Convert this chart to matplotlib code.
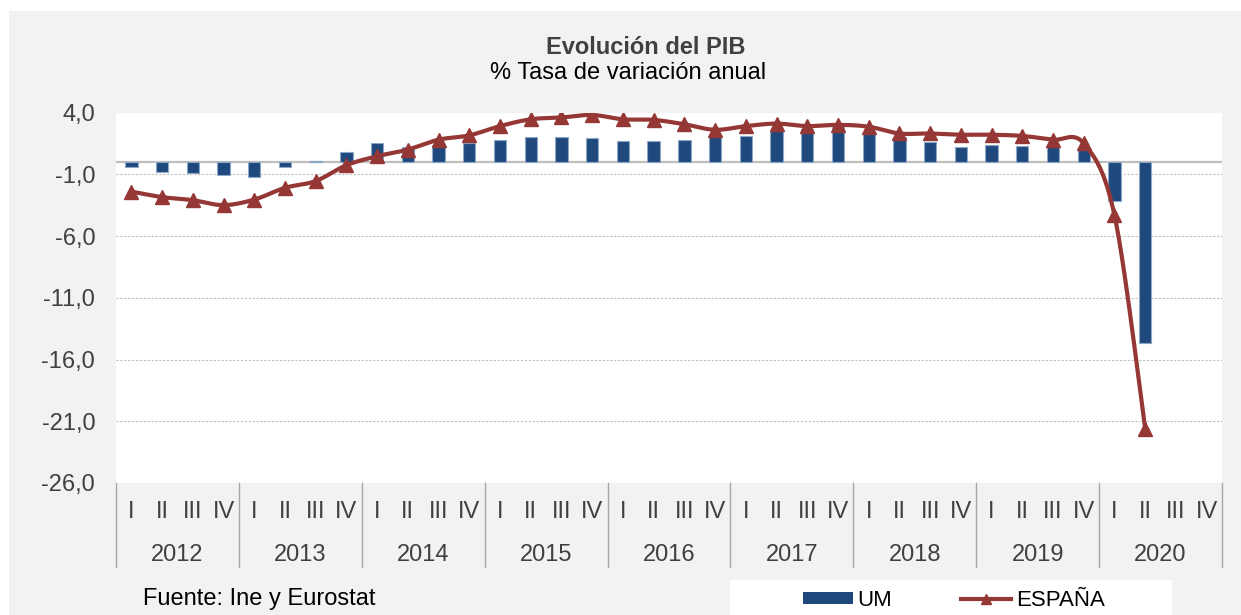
import numpy as np
import matplotlib.pyplot as plt
from matplotlib.patches import Rectangle, Patch
from matplotlib.lines import Line2D
from matplotlib.ticker import FuncFormatter

plt.rcParams['font.family'] = ['Liberation Sans', 'DejaVu Sans']

years = ['2012', '2013', '2014', '2015', '2016', '2017', '2018', '2019', '2020']
quarters = ['I', 'II', 'III', 'IV']

# UM (zona euro), tasa de variacion anual
um = [-0.4, -0.8, -0.9, -1.1, -1.2, -0.4, 0.1, 0.8,
      1.5, 1.2, 1.4, 1.5, 1.8, 2.0, 2.0, 1.9,
      1.7, 1.7, 1.8, 2.1, 2.1, 2.5, 2.7, 2.8,
      2.4, 2.0, 1.6, 1.2, 1.4, 1.25, 1.3, 1.0,
      -3.2, -14.7]

# ESPANA
esp = [-2.4, -2.85, -3.1, -3.5, -3.05, -2.1, -1.55, -0.27,
       0.46, 1.0, 1.8, 2.15, 2.9, 3.45, 3.6, 3.8,
       3.45, 3.4, 3.05, 2.6, 2.9, 3.1, 2.9, 3.0,
       2.85, 2.3, 2.3, 2.2, 2.2, 2.1, 1.8, 1.5,
       -4.3, -21.6]

yticks = [4, -1, -6, -11, -16, -21, -26]

blue = '#1f497d'
red = '#953735'
grey_txt = '#404040'
fs = 17

ncat = len(years) * 4
x_um = np.arange(len(um))
x_esp = np.arange(len(esp))


def smooth(xs, ys, n=24):
    # curva suavizada tipo Excel (Bezier / Catmull-Rom)
    px = np.concatenate([[xs[0]], xs, [xs[-1]]]).astype(float)
    py = np.concatenate([[ys[0]], ys, [ys[-1]]]).astype(float)
    ox, oy = [], []
    t = np.linspace(0, 1, n)
    for i in range(1, len(px) - 2):
        p0 = np.array([px[i - 1], py[i - 1]])
        p1 = np.array([px[i], py[i]])
        p2 = np.array([px[i + 1], py[i + 1]])
        p3 = np.array([px[i + 2], py[i + 2]])
        c1 = p1 + (p2 - p0) / 6.0
        c2 = p2 - (p3 - p1) / 6.0
        for tt in t:
            b = ((1 - tt) ** 3) * p1 + 3 * ((1 - tt) ** 2) * tt * c1 + 3 * (1 - tt) * tt ** 2 * c2 + tt ** 3 * p2
            ox.append(b[0])
            oy.append(b[1])
    return np.array(ox), np.array(oy)


fig = plt.figure(figsize=(12.41, 6.15), dpi=100)
fig.patch.set_facecolor('white')
fig.patches.append(Rectangle((9 / 1241, 0), 1 - 9 / 1241, 1 - 11 / 615, transform=fig.transFigure,
                             facecolor='#f2f2f2', edgecolor='none', zorder=-10))
fig.patches.append(Rectangle((730 / 1241, 0), (1172 - 730) / 1241, 35 / 615, transform=fig.transFigure,
                             facecolor='white', edgecolor='none', zorder=-5))

ax = fig.add_axes([116 / 1241, 1 - 483 / 615, (1222 - 116) / 1241, (483 - 112.5) / 615])
ax.set_facecolor('white')
ax.set_xlim(-0.5, ncat - 0.5)
ax.set_ylim(-26, 4)

for v in yticks:
    ax.axhline(v, color='#bfbfbf', lw=0.8, ls=(0, (2, 1.5)), zorder=0)
ax.axhline(0, color='#bfbfbf', lw=1.6, zorder=1)

ax.bar(x_um, um, width=0.4, color=blue, edgecolor='#8ea6c6', linewidth=0.8, zorder=2)

sx, sy = smooth(x_esp, esp)
ax.plot(sx, sy, color=red, lw=3, solid_capstyle='round', zorder=3)
ax.plot(x_esp, esp, ls='none', marker='^', ms=9.5, color=red, zorder=4)

ax.set_yticks(yticks)
ax.yaxis.set_major_formatter(FuncFormatter(lambda v, p: ('%.1f' % v).replace('.', ',')))
ax.tick_params(axis='y', length=0, pad=15, labelsize=fs, labelcolor=grey_txt)
ax.set_xticks([])
for s in ax.spines.values():
    s.set_visible(False)

# eje de categorias en dos niveles
tr = ax.get_xaxis_transform()
for i in range(ncat):
    ax.text(i, -0.078, quarters[i % 4], transform=tr, ha='center', va='center',
            fontsize=fs, color=grey_txt, clip_on=False)
for k, yr in enumerate(years):
    ax.text(4 * k + 1.5, -0.194, yr, transform=tr, ha='center', va='center',
            fontsize=fs, color=grey_txt, clip_on=False)
for k in range(len(years) + 1):
    ax.plot([4 * k - 0.5, 4 * k - 0.5], [0, -0.227], transform=tr, color='#a6a6a6',
            lw=1, clip_on=False)

fig.text(646 / 1241, 1 - 47 / 615, 'Evolución del PIB', ha='center', va='center',
         fontsize=fs, fontweight='bold', color=grey_txt)
fig.text(628 / 1241, 1 - 73 / 615, '% Tasa de variación anual', ha='center', va='center',
         fontsize=fs, color='black')
fig.text(143 / 1241, 1 - 599 / 615, 'Fuente: Ine y Eurostat', ha='left', va='center',
         fontsize=fs, color='black')

handles = [Patch(facecolor=blue, edgecolor='none'),
           Line2D([0], [0], color=red, lw=3, marker='^', ms=7)]
fig.legend(handles, ['UM', 'ESPAÑA'], ncol=2, frameon=False, loc='center left',
           bbox_to_anchor=(792 / 1241, 1 - 600 / 615), borderpad=0, handlelength=2.25,
           handleheight=0.45, handletextpad=0.2, columnspacing=3.1,
           prop={'size': 16})

plt.savefig('out.png', dpi=100)
